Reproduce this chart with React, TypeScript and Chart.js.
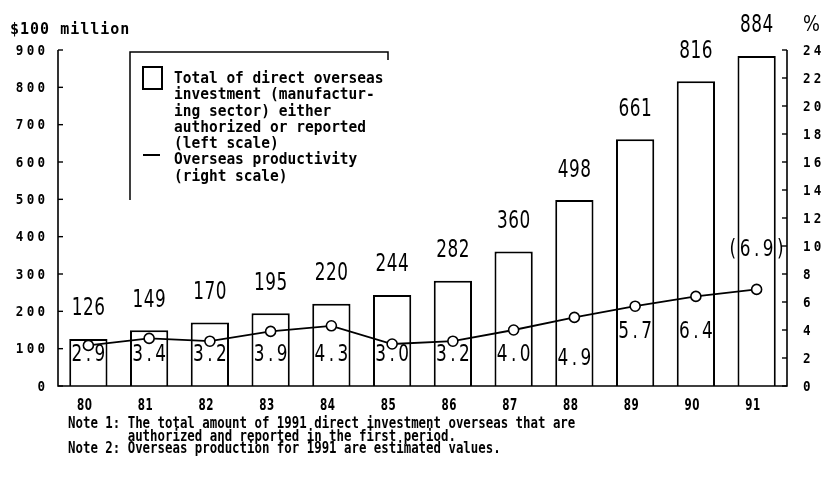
import React, { useEffect, useRef } from "react";
import { Chart, registerables } from "chart.js";

Chart.register(...registerables);

const years = ["80", "81", "82", "83", "84", "85", "86", "87", "88", "89", "90", "91"];
const investment = [126, 149, 170, 195, 220, 244, 282, 360, 498, 661, 816, 884];
const productivity = [2.9, 3.4, 3.2, 3.9, 4.3, 3.0, 3.2, 4.0, 4.9, 5.7, 6.4, 6.9];
const productivityText = ["2.9", "3.4", "3.2", "3.9", "4.3", "3.0", "3.2", "4.0", "4.9", "5.7", "6.4", "(6.9)"];
// where each productivity label sits, in right-scale (%) units
const productivityLabelAt = [2.2, 2.2, 2.2, 2.2, 2.2, 2.2, 2.2, 2.2, 1.95, 3.85, 3.85, 9.7];
const leftTicks = [0, 100, 200, 300, 400, 500, 600, 700, 800, 900];
const rightTicks = [0, 2, 4, 6, 8, 10, 12, 14, 16, 18, 20, 22, 24];
const leftUnit = "$100 million";
const rightUnit = "%";
const legendBarText = [
  "Total of direct overseas",
  "investment (manufactur-",
  "ing sector) either",
  "authorized or reported",
  "(left scale)",
];
const legendLineText = ["Overseas productivity", "(right scale)"];
const notes = [
  "Note 1: The total amount of 1991 direct investment overseas that are",
  "        authorized and reported in the first period.",
  "Note 2: Overseas production for 1991 are estimated values.",
];

const MONO = "'DejaVu Sans Mono', monospace";
const COND = "'DejaVu Sans Condensed', 'DejaVu Sans', sans-serif";

// draws text char by char with extra spacing, horizontally squeezed by sx
function spaced(
  ctx: CanvasRenderingContext2D,
  text: string,
  x: number,
  y: number,
  align: string,
  spacing: number,
  sx = 1,
  sy = 1
) {
  const chars = [...text];
  const widths = chars.map((c) => ctx.measureText(c).width * sx);
  const total = widths.reduce((a, b) => a + b, 0) + spacing * (chars.length - 1);
  let cx = align === "left" ? x : align === "right" ? x - total : x - total / 2;
  ctx.textAlign = "left";
  chars.forEach((c, i) => {
    ctx.save();
    ctx.translate(cx, y);
    ctx.scale(sx, sy);
    ctx.fillText(c, 0, 0);
    ctx.restore();
    cx += widths[i] + spacing;
  });
}

function scaledText(ctx: CanvasRenderingContext2D, text: string, x: number, y: number, sx: number, sy: number) {
  ctx.save();
  ctx.translate(x, y);
  ctx.scale(sx, sy);
  ctx.fillText(text, 0, 0);
  ctx.restore();
}

const overlay = {
  id: "overlay",
  afterDatasetsDraw(chart: any) {
    const ctx: CanvasRenderingContext2D = chart.ctx;
    const { left, right, top, bottom } = chart.chartArea;
    const xs = chart.scales.x;
    const ys = chart.scales.y;
    const y1 = chart.scales.y1;
    ctx.save();
    ctx.fillStyle = "#000";
    ctx.strokeStyle = "#000";

    // axes
    ctx.lineWidth = 1.6;
    ctx.beginPath();
    ctx.moveTo(left, top);
    ctx.lineTo(left, bottom);
    ctx.lineTo(right, bottom);
    ctx.lineTo(right, top);
    ctx.stroke();

    ctx.lineWidth = 1.4;
    leftTicks.forEach((v) => {
      const py = ys.getPixelForValue(v);
      ctx.beginPath();
      ctx.moveTo(left, py);
      ctx.lineTo(left + 5, py);
      ctx.stroke();
    });
    rightTicks.forEach((v) => {
      const py = y1.getPixelForValue(v);
      ctx.beginPath();
      ctx.moveTo(right - 5, py);
      ctx.lineTo(right, py);
      ctx.stroke();
    });

    // tick labels
    ctx.textBaseline = "middle";
    ctx.font = `bold 14px ${MONO}`;
    leftTicks.forEach((v) => {
      spaced(ctx, String(v), left - 13, ys.getPixelForValue(v) + 1, "right", 3.2, 0.9, 1.05);
    });
    rightTicks.forEach((v) => {
      spaced(ctx, String(v), right + 16, y1.getPixelForValue(v) + 1, "left", 3.2, 0.9, 1.05);
    });
    ctx.font = `bold 16px ${COND}`;
    years.forEach((t, i) => {
      spaced(ctx, t, xs.getPixelForValue(i) - 4, bottom + 20, "center", 0.5, 0.72, 1);
    });

    // unit labels
    ctx.font = `bold 15px ${MONO}`;
    spaced(ctx, leftUnit, 10, top - 20, "left", 1, 1, 1.1);
    ctx.font = `22px ${COND}`;
    spaced(ctx, rightUnit, right + 16, top - 25, "left", 0, 0.9, 1);

    // bar value labels
    const barMeta = chart.getDatasetMeta(0);
    ctx.font = `25px ${COND}`;
    investment.forEach((v, i) => {
      const el = barMeta.data[i];
      spaced(ctx, String(v), el.x, ys.getPixelForValue(v) - 30, "center", 0.5, 0.75, 1);
    });

    // productivity value labels
    ctx.font = `23.5px ${COND}`;
    productivityText.forEach((t, i) => {
      const el = barMeta.data[i];
      spaced(ctx, t, el.x, y1.getPixelForValue(productivityLabelAt[i]), "center", 3.5, 0.8, 1);
    });

    // legend
    const lx = 130;
    const ly = 52;
    ctx.lineWidth = 1.5;
    ctx.beginPath();
    ctx.moveTo(lx, 200);
    ctx.lineTo(lx, ly);
    ctx.lineTo(388, ly);
    ctx.lineTo(388, ly + 8);
    ctx.stroke();
    ctx.lineWidth = 2;
    ctx.strokeRect(143, 67, 19, 22);
    ctx.beginPath();
    ctx.moveTo(143, 155);
    ctx.lineTo(160, 155);
    ctx.stroke();
    ctx.font = `bold 14.5px ${MONO}`;
    ctx.textAlign = "left";
    [...legendBarText, ...legendLineText].forEach((t, i) => {
      scaledText(ctx, t, 174, 79 + i * 16.3, 1, 1.05);
    });

    // notes
    ctx.font = `bold 12.4px ${MONO}`;
    notes.forEach((t, i) => {
      scaledText(ctx, t, 68, 424 + i * 12.6, 1, 1.3);
    });

    ctx.restore();
  },
};

export default function App() {
  const ref = useRef<HTMLCanvasElement | null>(null);
  useEffect(() => {
    document.body.style.margin = "0";
    const canvas = ref.current!;
    const chart = new Chart(canvas, {
      type: "bar",
      data: {
        labels: years,
        datasets: [
          {
            type: "bar",
            data: investment,
            yAxisID: "y",
            backgroundColor: "#ffffff",
            borderColor: "#000000",
            borderWidth: 2,
            barPercentage: 0.63,
            categoryPercentage: 1,
            order: 2,
          },
          {
            type: "line",
            data: productivity,
            yAxisID: "y1",
            borderColor: "#000000",
            borderWidth: 1.8,
            pointRadius: 5,
            pointBackgroundColor: "#ffffff",
            pointBorderColor: "#000000",
            pointBorderWidth: 1.6,
            tension: 0,
            order: 1,
          } as any,
        ],
      },
      options: {
        responsive: false,
        animation: false,
        layout: { padding: { top: 50, left: 58, right: 36, bottom: 96 } },
        plugins: { legend: { display: false }, tooltip: { enabled: false } },
        scales: {
          x: { display: false, offset: true },
          y: { display: false, min: 0, max: 900 },
          y1: { display: false, min: 0, max: 24, position: "right" },
        },
      },
      plugins: [overlay],
    });
    return () => chart.destroy();
  }, []);
  return (
    <div style={{ width: 823, height: 482, background: "#fff" }}>
      <canvas ref={ref} width={823} height={482} style={{ display: "block" }} />
    </div>
  );
}
